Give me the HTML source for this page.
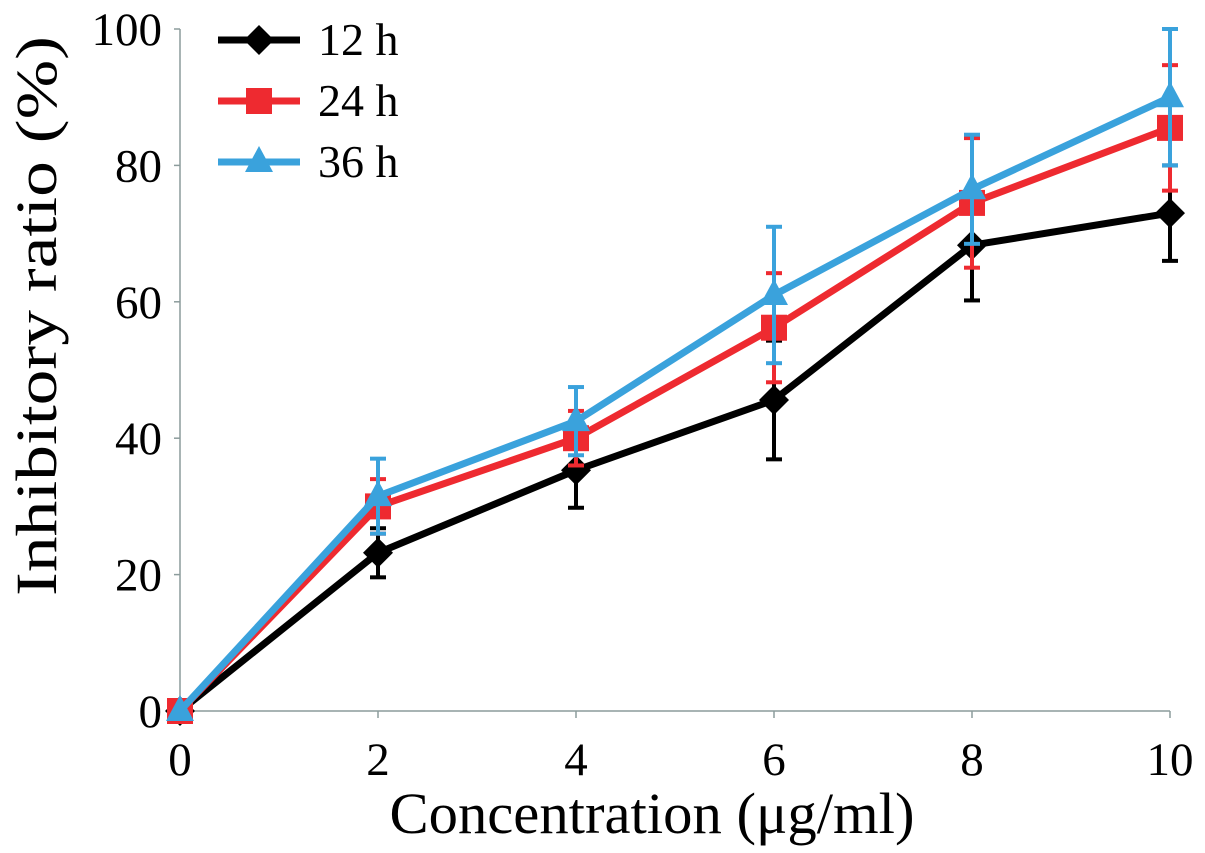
<!DOCTYPE html>
<html><head><meta charset="utf-8"><style>
body{margin:0;background:#fff}
svg{display:block;font-family:"Liberation Serif",serif}
</style></head><body>
<svg id="c" width="1205" height="853" viewBox="0 0 1205 853"></svg>
<script>
const categories=[0,2,4,6,8,10];
const xTicks=["0","2","4","6","8","10"];
const yTicks=[0,20,40,60,80,100];
const s12=[0,23.2,35.3,45.6,68.3,73];
const e12=[0,3.6,5.5,8.7,8.1,7];
const s24=[0,30,40,56.2,74.5,85.5];
const e24=[0,4,4,8,9.5,9.2];
const s36=[0,31.5,42.5,61,76.5,90];
const e36=[0,5.5,5,10,8,10];
const NS="http://www.w3.org/2000/svg";
const svg=document.getElementById('c');
const X=v=>180+v*99;
const Y=v=>711-v*6.82;
function el(t,a,p){const e=document.createElementNS(NS,t);for(const k in a)e.setAttribute(k,a[k]);(p||svg).appendChild(e);return e;}
const ax=el('g',{});


el('line',{x1:X(0),y1:Y(0),x2:X(10),y2:Y(0),stroke:'#8c9c9c','stroke-width':1.5},ax);
el('line',{x1:X(0),y1:Y(0),x2:X(0),y2:Y(100),stroke:'#8c9c9c','stroke-width':1.5},ax);
categories.forEach((c,i)=>{
 el('line',{x1:X(c),y1:Y(0),x2:X(c),y2:Y(0)+7,stroke:'#8c9c9c','stroke-width':1.5},ax);
 const t=el('text',{x:X(c),y:775,'font-size':47,'text-anchor':'middle',fill:'#000'},ax);
 t.textContent=xTicks[i];
 
 
});
yTicks.forEach(v=>{
 el('line',{x1:X(0)-6,y1:Y(v),x2:X(0),y2:Y(v),stroke:'#8c9c9c','stroke-width':1.5},ax);
 const t=el('text',{x:162,y:Y(v)+16,'font-size':47,'text-anchor':'end',fill:'#000'},ax);
 t.textContent=v;
 
 
});
const xt=el('text',{x:652,y:833,'font-size':58,'text-anchor':'middle',fill:'#000',textLength:525,lengthAdjust:'spacingAndGlyphs'});
xt.textContent='Concentration (μg/ml)';


const yt=el('text',{x:0,y:0,'font-size':58,'text-anchor':'middle',fill:'#000',transform:'translate(56,316) rotate(-90)',textLength:560,lengthAdjust:'spacingAndGlyphs'});
yt.textContent='Inhibitory ratio (%)';


function marker(g,type,x,y,col){
 if(type==='d')el('polygon',{points:`${x},${y-15} ${x+15},${y} ${x},${y+15} ${x-15},${y}`,fill:col},g);
 else if(type==='s')el('rect',{x:x-13,y:y-13,width:26,height:26,fill:col},g);
 else el('polygon',{points:`${x},${y-16} ${x+14},${y+10} ${x-14},${y+10}`,fill:col},g);
}
const series=[[s12,e12,'#000','d','12 h'],[s24,e24,'#ee2a30','s','24 h'],[s36,e36,'#3aa2dc','t','36 h']];
series.forEach(([vals,errs,col,type,name],si)=>{
 const g=el('g',{});
 
 
 vals.forEach((v,i)=>{
  if(errs[i]>0){
   const x=X(categories[i]);
   el('line',{x1:x,y1:Y(v-errs[i]),x2:x,y2:Y(Math.min(100,v+errs[i])),stroke:col,'stroke-width':4},g);
   el('line',{x1:x-8,y1:Y(v-errs[i]),x2:x+8,y2:Y(v-errs[i]),stroke:col,'stroke-width':4},g);
   el('line',{x1:x-8,y1:Y(Math.min(100,v+errs[i])),x2:x+8,y2:Y(Math.min(100,v+errs[i])),stroke:col,'stroke-width':4},g);
  }
 });
 el('polyline',{points:vals.map((v,i)=>X(categories[i])+','+Y(v)).join(' '),fill:'none',stroke:col,'stroke-width':7,'stroke-linejoin':'round'},g);
 vals.forEach((v,i)=>marker(g,type,X(categories[i]),Y(v),col));
 const ly=40+si*61;
 const lg=el('g',{});
 
 
 el('line',{x1:218,y1:ly,x2:300,y2:ly,stroke:col,'stroke-width':7},lg);
 marker(lg,type,259,ly,col);
 const t=el('text',{x:318,y:ly+15,'font-size':46,fill:'#000'},lg);
 t.textContent=name;
});
</script>
</body></html>
